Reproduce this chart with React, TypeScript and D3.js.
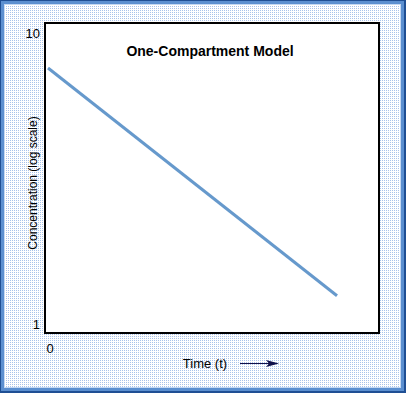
import { useEffect, useRef } from "react";
import * as d3 from "d3";

// one-compartment decay: two end points of the straight log line
const times = [0, 10];
const concentrations = [7.58, 1.25];
const yTicks = [1, 10];
const xTicks = [0];

const W = 406, H = 393;
const BOX = { left: 45, top: 23, right: 379, bottom: 333 };

export default function App() {
  const ref = useRef<SVGSVGElement>(null);

  useEffect(() => {
    const el = ref.current;
    if (!el) return;
    document.body.style.margin = "0";
    const svg = d3.select(el);
    svg.selectAll("*").remove();

    const defs = svg.append("defs");
    const pat = defs.append("pattern").attr("id", "dots").attr("width", 2).attr("height", 2)
      .attr("patternUnits", "userSpaceOnUse");
    pat.append("rect").attr("width", 2).attr("height", 2).attr("fill", "#ffffff");
    pat.append("rect").attr("width", 1).attr("height", 1).attr("fill", "#a9c3ea");

    // bevelled frame
    svg.append("rect").attr("width", W).attr("height", H).attr("fill", "#1f4f94");
    svg.append("rect").attr("x", 1).attr("y", 1).attr("width", W - 3).attr("height", H - 3).attr("fill", "#5b8fd0");
    svg.append("rect").attr("x", 4).attr("y", 4).attr("width", W - 9).attr("height", H - 9).attr("fill", "#c4d8f2");
    svg.append("rect").attr("x", 5).attr("y", 5).attr("width", W - 11).attr("height", H - 11).attr("fill", "url(#dots)");

    const x = d3.scaleLinear().domain([0, 10]).range([48, 337]);
    const y = d3.scaleLog().domain([1, 10]).range([324, 33]);

    svg.append("rect").attr("x", BOX.left).attr("y", BOX.top)
      .attr("width", BOX.right - BOX.left).attr("height", BOX.bottom - BOX.top)
      .attr("fill", "#ffffff").attr("stroke", "#000").attr("stroke-width", 2);

    const pts = times.map((t, i) => [x(t), y(concentrations[i])] as [number, number]);
    svg.append("path").attr("d", d3.line()(pts)).attr("fill", "none")
      .attr("stroke", "#6699cc").attr("stroke-width", 3);

    const font = "Liberation Sans, Arial, sans-serif";
    svg.append("g").selectAll("text").data(yTicks).join("text")
      .attr("x", 40).attr("y", (d) => y(d)).attr("dy", "0.35em").attr("text-anchor", "end")
      .attr("font-family", font).attr("font-size", 13).attr("fill", "#000").text((d) => d);

    svg.append("g").selectAll("text").data(xTicks).join("text")
      .attr("x", (d) => x(d) + 2).attr("y", 348).attr("dy", "0.35em").attr("text-anchor", "middle")
      .attr("font-family", font).attr("font-size", 13).attr("fill", "#000").text((d) => d);

    svg.append("text").attr("x", 210).attr("y", 51).attr("dy", "0.35em").attr("text-anchor", "middle")
      .attr("font-family", font).attr("font-size", 14).attr("font-weight", "bold").attr("fill", "#000")
      .text("One-Compartment Model");

    svg.append("text").attr("transform", "translate(33,183) rotate(-90)").attr("dy", "0.35em")
      .attr("text-anchor", "middle").attr("font-family", font).attr("font-size", 12).attr("fill", "#000")
      .text("Concentration (log scale)");

    svg.append("text").attr("x", 205).attr("y", 363).attr("dy", "0.35em").attr("text-anchor", "middle")
      .attr("font-family", font).attr("font-size", 13).attr("fill", "#000").text("Time (t)");

    svg.append("line").attr("x1", 240).attr("x2", 274).attr("y1", 363.5).attr("y2", 363.5)
      .attr("stroke", "#10104a").attr("stroke-width", 1);
    svg.append("path").attr("d", "M266,360 L279,363.5 L266,367 L269,363.5 Z").attr("fill", "#10104a");
  }, []);

  return <svg ref={ref} width={W} height={H} style={{ display: "block" }} />;
}
